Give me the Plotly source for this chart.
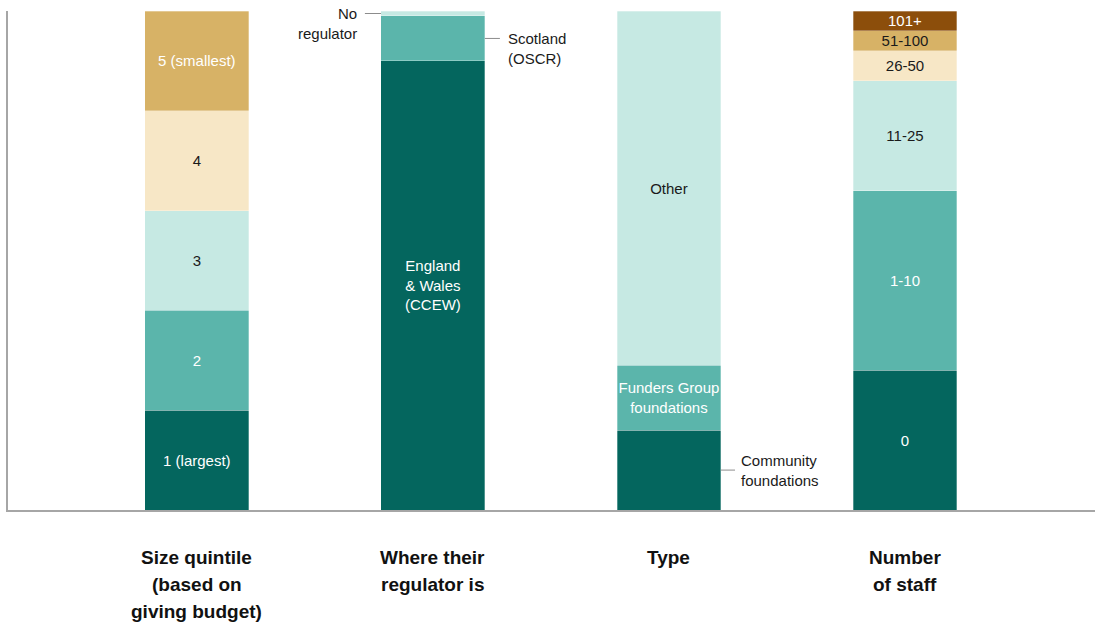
import plotly.graph_objects as go

# Category axis labels (one stacked bar each), split into lines
categories = [
    ["Size quintile", "(based on", "giving budget)"],
    ["Where their", "regulator is"],
    ["Type"],
    ["Number", "of staff"],
]

# Segment shares (%), bottom to top
size_labels = ["1 (largest)", "2", "3", "4", "5 (smallest)"]
size_values = [20, 20, 20, 20, 20]

regulator_labels = ["England<br>& Wales<br>(CCEW)", "Scotland<br>(OSCR)", "No<br>regulator"]
regulator_values = [90, 9, 1]

type_labels = ["Community<br>foundations", "Funders Group<br>foundations", "Other"]
type_values = [16, 13, 71]

staff_labels = ["0", "1-10", "11-25", "26-50", "51-100", "101+"]
staff_values = [28, 36, 22, 6, 4, 4]

DARK = "#04665E"
MID = "#5BB5AB"
LIGHT = "#C6E9E3"
BEIGE = "#F7E7C6"
TAN = "#D7B266"
BROWN = "#8C4E0B"
WHITE = "#FFFFFF"
INK = "#1A1A1A"

FONT = "Liberation Sans Narrow, Arial Narrow, Liberation Sans, Arial, sans-serif"

# (labels, values, colours, text colours, which labels are written inside the bar)
groups = [
    (size_labels, size_values, [DARK, MID, LIGHT, BEIGE, TAN],
     [WHITE, WHITE, INK, INK, WHITE], [True] * 5),
    (regulator_labels, regulator_values, [DARK, MID, LIGHT],
     [WHITE, WHITE, INK], [True, False, False]),
    (type_labels, type_values, [DARK, MID, LIGHT],
     [WHITE, WHITE, INK], [False, True, True]),
    (staff_labels, staff_values, [DARK, MID, LIGHT, BEIGE, TAN, BROWN],
     [WHITE, WHITE, INK, INK, INK, WHITE], [True] * 6),
]

BAR_W = 0.44
fig = go.Figure()

for xi, (labels, values, colors, tcolors, inside) in enumerate(groups):
    for lab, val, col, tcol, ins in zip(labels, values, colors, tcolors, inside):
        fig.add_trace(go.Bar(
            x=[xi], y=[val], width=BAR_W,
            marker=dict(color=col, line=dict(color="rgba(255,255,255,0.6)", width=0.5)),
            text=[lab if ins else ""],
            textposition="inside",
            insidetextanchor="middle",
            textangle=0,
            constraintext="none",
            textfont=dict(family=FONT, size=15, color=tcol),
            showlegend=False,
            hoverinfo="skip",
        ))

half = BAR_W / 2
annos = []
LEADER = dict(color="#8C8C8C", width=1)

# No regulator (top sliver of bar 2)
nr_y = regulator_values[0] + regulator_values[1] + regulator_values[2] / 2
fig.add_shape(type="line", x0=1 - half, x1=0.712, y0=nr_y, y1=nr_y, line=LEADER)
annos.append(dict(x=0.688, y=nr_y, text=regulator_labels[2], xanchor="right",
                  yanchor="middle", align="right", yshift=-10))

# Scotland
sc_y = regulator_values[0] + regulator_values[1] / 2
fig.add_shape(type="line", x0=1 + half, x1=1.284, y0=sc_y, y1=sc_y, line=LEADER)
annos.append(dict(x=1.31, y=sc_y, text=regulator_labels[1], xanchor="left",
                  yanchor="middle", align="left", yshift=-10))

# Community foundations
cf_y = type_values[0] / 2
fig.add_shape(type="line", x0=2 + half, x1=2.28, y0=cf_y, y1=cf_y, line=LEADER)
annos.append(dict(x=2.295, y=cf_y, text=type_labels[0], xanchor="left",
                  yanchor="middle", align="left"))

for a in annos:
    fig.add_annotation(showarrow=False, font=dict(family=FONT, size=15, color=INK), **a)

# Category names under the axis, one annotation per line
for xi, lines in enumerate(categories):
    for li, line in enumerate(lines):
        fig.add_annotation(x=xi, y=0, yref="paper", text=line, showarrow=False,
                           xanchor="center", yanchor="middle", yshift=-47 - 27 * li,
                           font=dict(family=FONT, size=19, color="#111111", weight="bold"))

fig.update_layout(
    barmode="stack",
    width=1095, height=629,
    margin=dict(l=8, r=0, t=11, b=119),
    paper_bgcolor="white",
    plot_bgcolor="white",
    xaxis=dict(range=[-0.8, 3.805], showticklabels=False, showgrid=False, zeroline=False,
               showline=True, linecolor="#A6A6A6", linewidth=1.5, ticks=""),
    yaxis=dict(range=[0, 100], showticklabels=False, showgrid=False, zeroline=False,
               showline=True, linecolor="#A6A6A6", linewidth=1.5, ticks=""),
    font=dict(family=FONT),
)

fig.write_html("out.html")
